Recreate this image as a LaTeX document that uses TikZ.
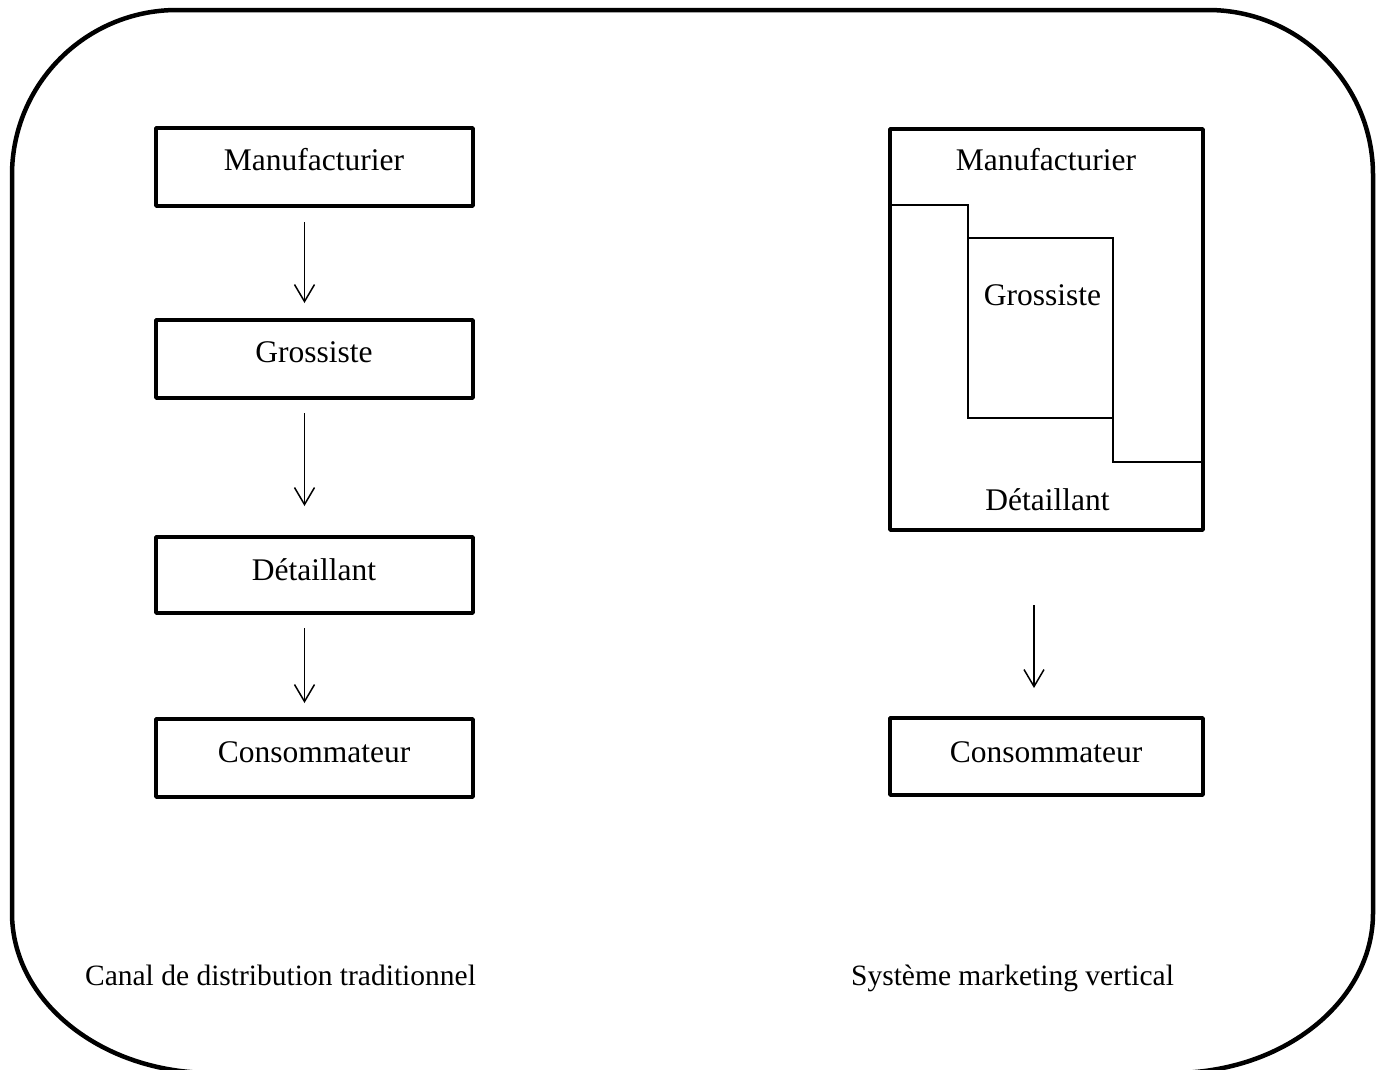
\documentclass[tikz,border=0pt]{standalone}
\usepackage{fontspec}
\setmainfont{Liberation Serif}
\usetikzlibrary{arrows.meta}
\begin{document}
\begin{tikzpicture}[x=1pt,y=-1pt,
  box/.style={draw, line width=3.5pt, line join=round, rectangle, inner sep=0pt, outer sep=0pt},
  thinbox/.style={draw, line width=1.5pt, rectangle, inner sep=0pt, outer sep=0pt},
  thinline/.style={line width=1.5pt},
  lbl/.style={font=\fontsize{31.5}{36}\selectfont, inner sep=0pt, anchor=base},
  captxt/.style={font=\fontsize{29.5}{34}\selectfont, inner sep=0pt, anchor=base},
  arr/.style={line width=1.5pt, -{Straight Barb[length=17pt,width=20pt,line width=1.5pt]}}
]
\useasboundingbox (0,0) rectangle (1386,1069);
\draw[line width=4.5pt]
  (177,10) -- (1208,10) arc[start angle=-90, end angle=0, radius=165]
  -- (1373,913) arc[start angle=0, end angle=90, x radius=200, y radius=160]
  -- (212,1073) arc[start angle=90, end angle=180, x radius=200, y radius=160]
  -- (12,175) arc[start angle=180, end angle=270, radius=165] -- cycle;

% left column
\node[box, minimum width=317pt, minimum height=78pt] (m1) at (314.5,167) {};
\node[box, minimum width=317pt, minimum height=78pt] (g1) at (314.5,359) {};
\node[box, minimum width=317pt, minimum height=76pt] (d1) at (314.5,575) {};
\node[box, minimum width=317pt, minimum height=78pt] (c1) at (314.5,758) {};
\node[lbl] (tm1) at (314,170) {Manufacturier};
\node[lbl] (tg1) at (314,362) {Grossiste};
\node[lbl] (td1) at (314,580) {Détaillant};
\node[lbl] (tc1) at (314,762) {Consommateur};
\draw[arr, shorten <=16pt, shorten >=17pt] ([xshift=-10pt]m1.south) -- ([xshift=-10pt]g1.north);
\draw[arr, shorten <=15pt, shorten >=31pt] ([xshift=-10pt]g1.south) -- ([xshift=-10pt]d1.north);
\draw[arr, shorten <=15pt, shorten >=16pt] ([xshift=-10pt]d1.south) -- ([xshift=-10pt]c1.north);

% right column
\node[box, minimum width=313pt, minimum height=401pt] (vms) at (1046.5,329.5) {};
\node[thinbox, minimum width=145pt, minimum height=180pt] (g2) at (1040.5,328) {};
\coordinate (s1) at (0,205);
\coordinate (s2) at (0,462);
\draw[thinline] (vms.west |- s1) -- (g2.west |- s1) -- (g2.north west);
\draw[thinline] (g2.south east) -- (g2.south east |- s2) -- (vms.east |- s2);
\node[lbl] (tm2) at (1046,170) {Manufacturier};
\node[lbl] (tg2) at (1042.5,305) {Grossiste};
\node[lbl] (td2) at (1047.5,510) {Détaillant};
\node[box, minimum width=313pt, minimum height=77pt] (c2) at (1046.5,756.5) {};
\node[lbl] (tc2) at (1046,762) {Consommateur};
\draw[arr, shorten <=75pt, shorten >=30pt] ([xshift=-12.5pt]vms.south) -- ([xshift=-12.5pt]c2.north);

% captions
\node[captxt] (cap1) at (280.5,985) {Canal de distribution traditionnel};
\node[captxt] (cap2) at (1012.5,985) {Système marketing vertical};
\end{tikzpicture}
\end{document}
